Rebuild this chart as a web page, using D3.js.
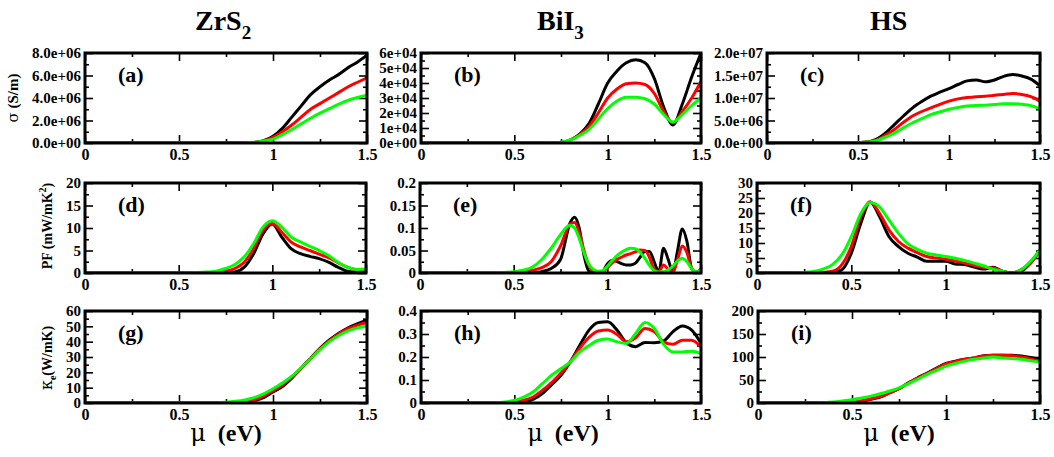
<!DOCTYPE html>
<html><head><meta charset="utf-8">
<script src="https://cdn.jsdelivr.net/npm/d3@7"></script>
<style>
body{margin:0;background:#fff}
svg{display:block}
text{font-family:"Liberation Serif","Times New Roman",serif;font-weight:bold;fill:#000}
</style>
</head><body><svg id="chart" width="1054" height="457"></svg>
<script>
// ---------- data ----------
const materials = ["ZrS", "BiI", "HS"];
const materialSubs = ["2", "3", ""];
const panelLabels = ["(a)","(b)","(c)","(d)","(e)","(f)","(g)","(h)","(i)"];
const seriesColors = ["#000000", "#ff0000", "#00ff00"];
const xTickValues = [0, 0.5, 1, 1.5];
const xTickLabels = ["0", "0.5", "1", "1.5"];

// (a) sigma ZrS2
const xA = [0,0.8,0.85,0.9,0.95,1.0,1.05,1.1,1.15,1.2,1.25,1.3,1.35,1.4,1.45,1.5];
const aBlack = [0,0,0.01e6,0.05e6,0.2e6,0.6e6,1.3e6,2.3e6,3.3e6,4.3e6,5.0e6,5.6e6,6.1e6,6.7e6,7.2e6,7.8e6];
const aRed   = [0,0,0.01e6,0.05e6,0.18e6,0.5e6,1.0e6,1.6e6,2.3e6,3.0e6,3.5e6,4.0e6,4.5e6,5.0e6,5.4e6,5.8e6];
const aGreen = [0,0,0.02e6,0.07e6,0.18e6,0.35e6,0.75e6,1.2e6,1.7e6,2.2e6,2.65e6,3.05e6,3.45e6,3.8e6,4.05e6,4.25e6];
const aTicks = [0,2e6,4e6,6e6,8e6];
const aTickLabels = ["0.0e+00","2.0e+06","4.0e+06","6.0e+06","8.0e+06"];

// (b) sigma BiI3
const xB = [0,0.7,0.75,0.8,0.85,0.9,0.95,1.0,1.05,1.1,1.15,1.2,1.25,1.3,1.35,1.4,1.45,1.5];
const bBlack = [0,0,0.02e4,0.2e4,0.6e4,1.3e4,2.6e4,4.0e4,4.8e4,5.35e4,5.55e4,5.35e4,4.3e4,2.4e4,1.2e4,2.6e4,4.4e4,6.0e4];
const bRed   = [0,0,0.02e4,0.2e4,0.55e4,1.1e4,2.0e4,3.0e4,3.6e4,3.95e4,4.0e4,3.9e4,3.3e4,2.1e4,1.35e4,2.1e4,3.0e4,4.1e4];
const bGreen = [0,0.01e4,0.05e4,0.2e4,0.5e4,0.9e4,1.6e4,2.3e4,2.8e4,3.05e4,3.05e4,2.95e4,2.6e4,1.9e4,1.4e4,1.9e4,2.5e4,3.0e4];
const bTicks = [0,1e4,2e4,3e4,4e4,5e4,6e4];
const bTickLabels = ["0e+00","1e+04","2e+04","3e+04","4e+04","5e+04","6e+04"];

// (c) sigma HS
const xC = [0,0.45,0.5,0.55,0.6,0.65,0.7,0.75,0.8,0.85,0.9,0.95,1.0,1.05,1.1,1.15,1.2,1.25,1.3,1.35,1.4,1.45,1.5];
const cBlack = [0,0,0.05e6,0.2e6,0.8e6,2.2e6,4.1e6,6.0e6,7.8e6,9.2e6,10.4e6,11.3e6,12.1e6,13.0e6,13.8e6,14.0e6,13.6e6,14.0e6,14.8e6,15.2e6,14.9e6,14.2e6,12.7e6];
const cRed   = [0,0,0.05e6,0.2e6,0.6e6,1.7e6,3.0e6,4.6e6,6.0e6,7.0e6,7.8e6,8.6e6,9.3e6,9.8e6,10.1e6,10.3e6,10.4e6,10.6e6,10.8e6,11.0e6,10.8e6,10.3e6,9.3e6];
const cGreen = [0,0,0.05e6,0.2e6,0.5e6,1.3e6,2.2e6,3.4e6,4.5e6,5.4e6,6.3e6,6.9e6,7.5e6,7.9e6,8.2e6,8.35e6,8.4e6,8.55e6,8.7e6,8.75e6,8.6e6,8.3e6,7.6e6];
const cTicks = [0,5e6,1e7,1.5e7,2e7];
const cTickLabels = ["0.0e+00","5.0e+06","1.0e+07","1.5e+07","2.0e+07"];

// (d) PF ZrS2
const xD = [0,0.5,0.55,0.6,0.65,0.7,0.75,0.8,0.85,0.9,0.95,1.0,1.05,1.1,1.15,1.2,1.25,1.3,1.35,1.4,1.45,1.5];
const dBlack = [0,0,0,0,0,0,0.05,0.2,1.3,4.3,8.7,10.9,8.0,5.4,4.3,3.7,3.2,2.4,1.3,0.4,0.15,0.2];
const dRed   = [0,0,0,0.02,0.05,0.15,0.4,1.0,2.4,5.4,9.5,11.0,9.1,6.9,5.8,5.0,4.2,3.4,2.3,1.3,0.7,0.6];
const dGreen = [0,0.02,0.05,0.1,0.2,0.4,1.0,1.9,3.6,6.5,10.2,11.6,10.2,8.0,6.9,5.9,5.0,3.9,2.4,1.3,0.8,0.9];
const dTicks = [0,5,10,15,20];
const dTickLabels = ["0","5","10","15","20"];

// (e) PF BiI3
const xE = [0,0.45,0.5,0.55,0.6,0.65,0.7,0.75,0.8,0.825,0.85,0.875,0.9,0.925,0.95,0.975,1.0,1.025,1.05,1.075,1.1,1.125,1.15,1.175,1.2,1.225,1.25,1.275,1.3,1.325,1.35,1.375,1.4,1.425,1.45,1.475,1.5];
const eBlack = [0,0,0,0,0.001,0.003,0.01,0.03,0.11,0.124,0.1,0.04,0.005,0,0,0.003,0.02,0.028,0.026,0.021,0.018,0.018,0.022,0.035,0.048,0.048,0.025,0.002,0.055,0.03,0.002,0.05,0.098,0.07,0.01,0.001,0.008];
const eRed   = [0,0,0.001,0.003,0.006,0.012,0.025,0.06,0.108,0.112,0.09,0.05,0.018,0.004,0.001,0.002,0.012,0.022,0.03,0.035,0.04,0.043,0.047,0.051,0.05,0.035,0.008,0.003,0.018,0.008,0.002,0.03,0.06,0.045,0.01,0.002,0.008];
const eGreen = [0,0.001,0.003,0.006,0.013,0.03,0.055,0.085,0.106,0.1,0.077,0.045,0.02,0.008,0.004,0.005,0.015,0.027,0.038,0.046,0.052,0.055,0.054,0.046,0.033,0.017,0.005,0.002,0.003,0.007,0.015,0.027,0.033,0.025,0.01,0.002,0.008];
const eTicks = [0,0.05,0.1,0.15,0.2];
const eTickLabels = ["0","0.05","0.1","0.15","0.2"];

// (f) PF HS
const xF = [0,0.2,0.25,0.3,0.35,0.4,0.45,0.5,0.55,0.6,0.65,0.7,0.75,0.8,0.85,0.9,0.95,1.0,1.05,1.1,1.15,1.2,1.25,1.3,1.35,1.4,1.45,1.5];
const fBlack = [0,0,0,0,0.05,0.2,1.1,6.6,16.5,23.7,18.7,12.1,8.8,6.6,5.3,3.9,3.9,3.9,3.0,2.8,2.0,1.3,1.9,0.6,0,0.6,3.3,7.7];
const fRed   = [0,0,0,0.05,0.2,0.6,2.8,8.8,18.7,23.7,19.8,14.3,10.5,8.3,6.8,5.5,5.0,4.6,4.0,3.3,2.6,1.9,1.7,0.6,0,1.1,3.3,7.7];
const fGreen = [0,0.1,0.2,0.5,1.3,2.8,6.1,12.1,19.8,23.5,22.0,17.6,13.2,9.7,7.9,6.6,6.0,5.5,4.9,4.2,3.3,2.4,1.3,0.6,0,1.1,3.9,7.7];
const fTicks = [0,5,10,15,20,25,30];
const fTickLabels = ["0","5","10","15","20","25","30"];

// (g) kappa_e ZrS2
const xG = [0,0.7,0.75,0.8,0.85,0.9,0.95,1.0,1.05,1.1,1.15,1.2,1.25,1.3,1.35,1.4,1.45,1.5];
const gBlack = [0,0,0,0.1,0.4,1.5,3.5,7.2,10.8,16.2,22.7,29.2,35.7,41.1,45.5,49.1,51.8,54.0];
const gRed   = [0,0,0.05,0.3,0.8,2.0,4.5,8.0,11.8,16.8,22.8,29.0,35.3,40.6,45.0,48.5,50.8,52.5];
const gGreen = [0,0.2,0.5,1.1,2.0,3.5,6.0,9.3,13.0,17.5,23.0,29.0,34.8,40.0,44.0,47.0,49.0,50.0];
const gTicks = [0,10,20,30,40,50,60];
const gTickLabels = ["0","10","20","30","40","50","60"];

// (h) kappa_e BiI3
const xH = [0,0.4,0.45,0.5,0.55,0.6,0.65,0.7,0.75,0.8,0.85,0.9,0.95,1.0,1.05,1.1,1.15,1.2,1.25,1.3,1.35,1.4,1.45,1.5];
const hBlack = [0,0,0,0,0.004,0.016,0.041,0.08,0.12,0.179,0.25,0.317,0.35,0.353,0.317,0.262,0.245,0.263,0.262,0.27,0.31,0.335,0.317,0.26];
const hRed   = [0,0,0.001,0.004,0.012,0.026,0.055,0.089,0.13,0.179,0.237,0.285,0.313,0.317,0.298,0.266,0.284,0.324,0.31,0.266,0.255,0.273,0.273,0.244];
const hGreen = [0,0.001,0.004,0.012,0.026,0.048,0.084,0.121,0.15,0.179,0.222,0.25,0.273,0.278,0.266,0.259,0.302,0.35,0.324,0.255,0.222,0.222,0.225,0.215];
const hTicks = [0,0.1,0.2,0.3,0.4];
const hTickLabels = ["0","0.1","0.2","0.3","0.4"];

// (i) kappa_e HS
const xI = [0,0.3,0.35,0.4,0.45,0.5,0.55,0.6,0.65,0.7,0.75,0.8,0.85,0.9,0.95,1.0,1.05,1.1,1.15,1.2,1.25,1.3,1.35,1.4,1.45,1.5];
const iBlack = [0,0,0,0,0,0.5,3.6,8,13,22,31,44,55,65,76,86,91,95,98,103,104,104,104,102,99,95];
const iRed   = [0,0,0,0.2,0.6,1.5,4.5,9,14,22,31,43,54,64,75,85,90,95,98,102,104,104,103,100,96,91];
const iGreen = [0,0.2,0.7,2,4.4,7.3,11,15,20,26,33,42,52,62,71,80,86,91,95,98,100,98,97,95,92,89];
const iTicks = [0,50,100,150,200];
const iTickLabels = ["0","50","100","150","200"];

// ---------- layout ----------
const panels = [
  {x:xA, ys:[aBlack,aRed,aGreen], ticks:aTicks, labels:aTickLabels, minor:1e6,   box:[85,53,367,143]},
  {x:xB, ys:[bBlack,bRed,bGreen], ticks:bTicks, labels:bTickLabels, minor:5e3,   box:[421,53,701,143]},
  {x:xC, ys:[cBlack,cRed,cGreen], ticks:cTicks, labels:cTickLabels, minor:2.5e6, box:[767,53,1040,143]},
  {x:xD, ys:[dBlack,dRed,dGreen], ticks:dTicks, labels:dTickLabels, minor:2.5,   box:[85,183,366,273]},
  {x:xE, ys:[eBlack,eRed,eGreen], ticks:eTicks, labels:eTickLabels, minor:0.025, box:[420,183,701,273]},
  {x:xF, ys:[fBlack,fRed,fGreen], ticks:fTicks, labels:fTickLabels, minor:2.5,   box:[757,183,1040,273]},
  {x:xG, ys:[gBlack,gRed,gGreen], ticks:gTicks, labels:gTickLabels, minor:5,     box:[85,311,367,403]},
  {x:xH, ys:[hBlack,hRed,hGreen], ticks:hTicks, labels:hTickLabels, minor:0.05,  box:[421,311,701,403]},
  {x:xI, ys:[iBlack,iRed,iGreen], ticks:iTicks, labels:iTickLabels, minor:25,    box:[758,311,1040,403]}
];

const svg = d3.select("#chart");
const defs = svg.append("defs");

panels.forEach((p, k) => {
  const [x0,y0,x1,y1] = p.box;
  const yMax = p.ticks[p.ticks.length-1];
  const xs = d3.scaleLinear().domain([0,1.5]).range([x0,x1]);
  const ys = d3.scaleLinear().domain([0,yMax]).range([y1,y0]);
  const g = svg.append("g");

  defs.append("clipPath").attr("id","clip"+k)
    .append("rect").attr("x",x0).attr("y",y0-1).attr("width",x1-x0).attr("height",y1-y0+1);

  const xMinor = d3.range(0, 1.5001, 0.25).filter(v => !xTickValues.some(t => Math.abs(t-v)<1e-9));
  const yMinor = d3.range(0, yMax*1.0001, p.minor).filter(v => !p.ticks.some(t => Math.abs(t-v)<yMax*1e-6));

  const styleAxis = a => { a.select(".domain").remove(); a.selectAll("line").attr("stroke","#000").attr("stroke-width",1.6); };

  g.append("g").attr("transform",`translate(0,${y1})`)
    .call(d3.axisBottom(xs).tickValues(xTickValues).tickSize(-8).tickPadding(6).tickFormat((d,i)=>xTickLabels[i]))
    .call(styleAxis)
    .call(a => a.selectAll("text").attr("font-size",16).attr("font-family","Liberation Serif").attr("font-weight","bold"));
  g.append("g").attr("transform",`translate(0,${y1})`)
    .call(d3.axisBottom(xs).tickValues(xMinor).tickSize(-4).tickFormat("")).call(styleAxis);
  g.append("g").attr("transform",`translate(0,${y0})`)
    .call(d3.axisTop(xs).tickValues(xTickValues).tickSize(-8).tickFormat("")).call(styleAxis);
  g.append("g").attr("transform",`translate(0,${y0})`)
    .call(d3.axisTop(xs).tickValues(xMinor).tickSize(-4).tickFormat("")).call(styleAxis);

  g.append("g").attr("transform",`translate(${x0},0)`)
    .call(d3.axisLeft(ys).tickValues(p.ticks).tickSize(-8).tickPadding(4).tickFormat((d,i)=>p.labels[i]))
    .call(styleAxis)
    .call(a => a.selectAll("text").attr("font-size",15).attr("font-family","Liberation Serif").attr("font-weight","bold"));
  g.append("g").attr("transform",`translate(${x0},0)`)
    .call(d3.axisLeft(ys).tickValues(yMinor).tickSize(-4).tickFormat("")).call(styleAxis);
  g.append("g").attr("transform",`translate(${x1},0)`)
    .call(d3.axisRight(ys).tickValues(p.ticks).tickSize(-8).tickFormat("")).call(styleAxis);
  g.append("g").attr("transform",`translate(${x1},0)`)
    .call(d3.axisRight(ys).tickValues(yMinor).tickSize(-4).tickFormat("")).call(styleAxis);

  const line = d3.line().x((d,i)=>xs(p.x[i])).y(d=>ys(d)).curve(d3.curveMonotoneX);
  const cg = g.append("g").attr("clip-path",`url(#clip${k})`);
  p.ys.forEach((arr, s) => {
    cg.append("path").attr("d", line(arr)).attr("fill","none")
      .attr("stroke", seriesColors[s]).attr("stroke-width",3).attr("stroke-linejoin","round");
  });

  g.append("rect").attr("x",x0).attr("y",y0).attr("width",x1-x0).attr("height",y1-y0)
    .attr("fill","none").attr("stroke","#000").attr("stroke-width",3);

  g.append("text").attr("x",x0+33).attr("y",y0+29).attr("font-size",22).text(panelLabels[k]);
});

const titleX = [195, 537, 870];
materials.forEach((m,i) => {
  const t = svg.append("text").attr("x",titleX[i]).attr("y",30).attr("font-size",28);
  t.append("tspan").text(m);
  if (materialSubs[i]) t.append("tspan").attr("font-size",19).attr("dy",9).text(materialSubs[i]);
});

[226, 563, 899].forEach(cx => {
  const t = svg.append("text").attr("x",cx).attr("y",441).attr("text-anchor","middle").attr("font-size",24);
  t.append("tspan").attr("font-weight","normal").attr("font-family","DejaVu Serif").attr("font-size",24).text("μ");
  t.append("tspan").text("\u00a0\u00a0(eV)");
});

const yl1 = svg.append("text").attr("transform","translate(18,98) rotate(-90)").attr("text-anchor","middle").attr("font-size",15);
yl1.append("tspan").attr("font-weight","normal").attr("font-family","DejaVu Serif").attr("font-size",15).text("σ");
yl1.append("tspan").text(" (S/m)");

const yl2 = svg.append("text").attr("transform","translate(52,226) rotate(-90)").attr("text-anchor","middle").attr("font-size",14);
yl2.append("tspan").text("PF (mW/mK");
yl2.append("tspan").attr("font-size",10).attr("dy",-6).text("2");
yl2.append("tspan").attr("dy",6).text(")");

const yl3 = svg.append("text").attr("transform","translate(52,358) rotate(-90)").attr("text-anchor","middle").attr("font-size",14);
yl3.append("tspan").attr("font-weight","normal").attr("font-family","DejaVu Serif").attr("font-size",16).text("κ");
yl3.append("tspan").attr("font-size",10).attr("dy",4).text("e");
yl3.append("tspan").attr("dy",-4).text("(W/mK)");
</script>
</body></html>
